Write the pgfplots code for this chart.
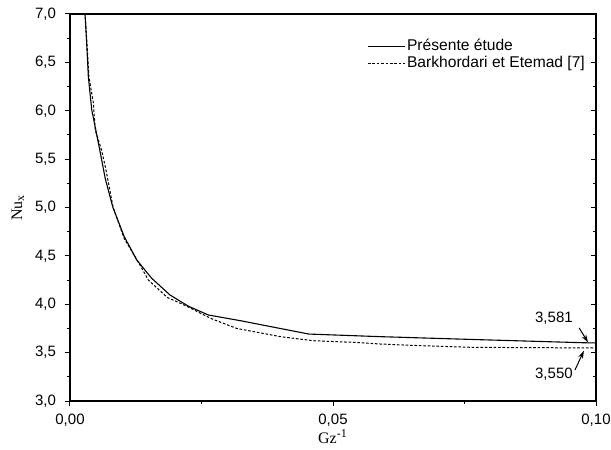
\documentclass[border=0pt]{standalone}
\usepackage{fontspec}
\setmainfont{Liberation Sans}
\newfontfamily\seriffont{Liberation Serif}
\usepackage{pgfplots}
\pgfplotsset{compat=1.18}
\usetikzlibrary{arrows.meta}
\begin{document}
\begin{tikzpicture}
\begin{axis}[
  name=ax,
  scale only axis, width=263pt, height=193.5pt,
  xmin=0, xmax=0.1, ymin=3, ymax=7,
  xtick={0,0.05,0.1}, minor xtick={0.025,0.075},
  ytick={3,3.5,4,4.5,5,5.5,6,6.5,7},
  minor ytick={3.25,3.75,4.25,4.75,5.25,5.75,6.25,6.75},
  tick pos=left, tick align=outside,
  major tick length=2.5pt, minor tick length=1.5pt,
  every tick/.style={black, line width=0.5pt},
  axis line style={line width=0.6pt},
  scaled x ticks=false,
  /pgf/number format/assume math mode=true,
  xticklabel style={/pgf/number format/fixed, /pgf/number format/fixed zerofill, /pgf/number format/precision=2, /pgf/number format/use comma, inner sep=0.5pt},
  xticklabel shift=3.5pt,
  yticklabel style={/pgf/number format/fixed, /pgf/number format/fixed zerofill, /pgf/number format/precision=1, /pgf/number format/use comma},
  yticklabel shift=1pt,
  ticklabel style={font=\fontsize{7.5}{9}\selectfont},
  xlabel={\seriffont Gz\textsuperscript{-1}},
  ylabel={\seriffont Nu\textsubscript{x}},
  label style={font=\fontsize{8}{9.5}\selectfont},
  xlabel style={at={(axis description cs:0.5,-0.092)}, anchor=center, inner sep=0pt},
  ylabel style={at={(axis description cs:-0.099,0.5)}, anchor=center},
  legend cell align=left,
  legend style={draw=none, fill=none, at={(0.5646,0.9406)}, anchor=north west,
    inner sep=0pt, row sep=0pt, font=\fontsize{7.8}{9}\selectfont,
    nodes={inner sep=0.8pt}},
  legend image code/.code={\draw[#1] (0pt,0pt) -- (18.5pt,0pt);},
  clip=true,
]
\addplot[black, line width=0.55pt] coordinates {
(0.0027,7.1) (0.00286,7.0) (0.00317,6.70) (0.00349,6.35) (0.00413,6.01) (0.0054,5.667) (0.0067,5.30) (0.00813,5.005) (0.0103,4.70) (0.0127,4.457) (0.0155,4.27) (0.019,4.096) (0.0225,3.98) (0.0263,3.889) (0.0324,3.83) (0.0454,3.692) (0.059,3.665) (0.0771,3.635) (0.0977,3.602) (0.1,3.600)
};
\addlegendentry{Présente étude}
\addplot[black, line width=0.5pt, dash pattern=on 1.3pt off 0.9pt] coordinates {
(0.0027,7.1) (0.00288,7.0) (0.0036,6.35) (0.00444,6.08) (0.0048,5.80) (0.0060,5.594) (0.0068,5.40) (0.0082,5.0) (0.0103,4.68) (0.0133,4.406) (0.0149,4.25) (0.0185,4.07) (0.021,4.01) (0.0229,3.96) (0.0267,3.855) (0.0317,3.75) (0.04,3.665) (0.0463,3.623) (0.054,3.606) (0.059,3.589) (0.065,3.575) (0.0762,3.555) (0.1,3.548)
};
\addlegendentry{Barkhordari et Etemad [7]}
\node[font=\fontsize{7.5}{9}\selectfont] at (axis cs:0.092,3.858) {3,581};
\node[font=\fontsize{7.5}{9}\selectfont] at (axis cs:0.092,3.279) {3,550};
\draw[-{Stealth[length=4pt,width=2.5pt]}, line width=0.5pt] (axis cs:0.0968,3.755) -- (axis cs:0.0985,3.605);
\draw[-{Stealth[length=4pt,width=2.5pt]}, line width=0.5pt] (axis cs:0.0960,3.32) -- (axis cs:0.0977,3.52);
\end{axis}
\begin{axis}[
  scale only axis, width=263pt, height=193.5pt,
  xmin=0, xmax=0.1, ymin=3, ymax=7,
  axis x line=none, axis y line*=right,
  axis line style={line width=0.6pt, -},
  ytick={3,3.5,4,4.5,5,5.5,6,6.5,7},
  minor ytick={3.25,3.75,4.25,4.75,5.25,5.75,6.25,6.75},
  yticklabels={},
  tick align=inside,
  major tick length=2.5pt, minor tick length=1.5pt,
  every tick/.style={black, line width=0.5pt},
]
\end{axis}
\pgfresetboundingbox
\path[use as bounding box] ([xshift=-35pt,yshift=-24.5pt]ax.south west) rectangle ([xshift=7.5pt,yshift=7pt]ax.north east);
\end{tikzpicture}
\end{document}
